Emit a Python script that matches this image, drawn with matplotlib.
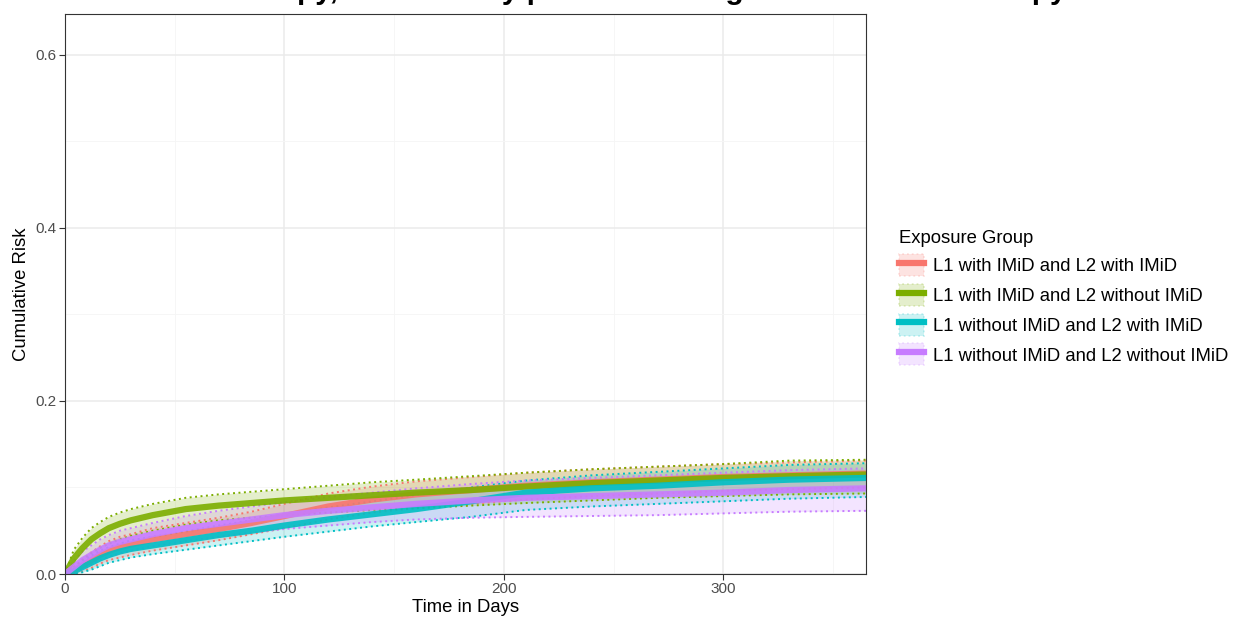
import matplotlib.pyplot as plt
from matplotlib.patches import Patch
from matplotlib.lines import Line2D

plt.rcParams['font.family'] = ['Liberation Sans', 'DejaVu Sans']

title = "Cumulative Risk of Infection after Therapy, Stratified by prior IMiD usage in L1 and L2 Therapy"
groups = ["L1 with IMiD and L2 with IMiD", "L1 with IMiD and L2 without IMiD",
          "L1 without IMiD and L2 with IMiD", "L1 without IMiD and L2 without IMiD"]
colors = ["#F8766D", "#7CAE00", "#00BFC4", "#C77CFF"]

days = [0, 4, 8, 12, 16, 20, 25, 30, 40, 55, 70, 85, 100, 120, 140, 160, 185, 210, 240, 270, 300, 330, 365]

red_est = [0, .004, .010, .016, .022, .027, .031, .034, .040, .046, .052, .059, .067, .078, .086, .092, .097, .102, .106, .109, .112, .114, .116]
red_lo = [0, 0, .003, .007, .012, .016, .019, .022, .027, .033, .039, .046, .053, .063, .071, .076, .081, .086, .090, .093, .096, .098, .100]
red_hi = [0, .008, .017, .025, .032, .038, .043, .046, .053, .059, .065, .072, .081, .093, .101, .107, .112, .117, .121, .124, .127, .129, .131]

green_est = [0, .018, .030, .040, .047, .053, .058, .062, .068, .075, .079, .082, .085, .088, .091, .094, .097, .101, .105, .108, .111, .113, .115]
green_lo = [0, .008, .016, .024, .030, .035, .040, .044, .050, .057, .062, .065, .068, .071, .074, .076, .079, .082, .085, .088, .090, .092, .093]
green_hi = [0, .028, .042, .053, .060, .066, .071, .075, .081, .088, .092, .095, .098, .102, .106, .109, .113, .117, .121, .124, .127, .131, .132]

cyan_est = [0, .003, .008, .013, .018, .022, .026, .029, .033, .039, .045, .050, .056, .063, .069, .075, .084, .094, .099, .102, .106, .109, .111]
cyan_lo = [0, 0, .002, .005, .009, .013, .016, .019, .023, .028, .033, .038, .043, .049, .055, .060, .066, .074, .078, .081, .084, .087, .089]
cyan_hi = [0, .006, .014, .021, .027, .031, .035, .039, .043, .049, .056, .062, .069, .077, .084, .091, .100, .108, .114, .118, .122, .126, .128]

purple_est = [0, .008, .016, .022, .028, .033, .037, .040, .046, .053, .058, .063, .068, .073, .077, .081, .085, .088, .090, .092, .094, .097, .099]
purple_lo = [0, .001, .006, .011, .016, .020, .024, .027, .032, .038, .043, .048, .052, .056, .060, .063, .065, .066, .067, .068, .070, .072, .073]
purple_hi = [0, .015, .026, .033, .040, .045, .050, .053, .059, .067, .073, .078, .083, .089, .094, .099, .104, .108, .111, .114, .117, .120, .122]

series = [(red_est, red_lo, red_hi), (green_est, green_lo, green_hi),
          (cyan_est, cyan_lo, cyan_hi), (purple_est, purple_lo, purple_hi)]

fig = plt.figure(figsize=(12.35, 6.2), dpi=100)
ax = fig.add_axes([65 / 1235, 1 - 574 / 620, (866 - 65) / 1235, (574 - 14) / 620])

dots = (0, (1, 1.8))
for (est, lo, hi), c in zip(series, colors):
    ax.fill_between(days, lo, hi, color=c, alpha=0.2, linewidth=0)
    ax.plot(days, lo, color=c, lw=1.4, ls=dots)
    ax.plot(days, hi, color=c, lw=1.4, ls=dots)
for (est, lo, hi), c in zip(series, colors):
    ax.plot(days, est, color=c, lw=4.5, alpha=0.9, solid_capstyle='butt')

ax.set_xlim(0, 365)
ax.set_ylim(0, 0.647)
ax.set_xticks([0, 100, 200, 300])
ax.set_xticks([50, 150, 250, 350], minor=True)
ax.set_yticks([0, 0.2, 0.4, 0.6])
ax.set_yticks([0.1, 0.3, 0.5], minor=True)
ax.yaxis.set_major_formatter(plt.FormatStrFormatter('%.1f'))
ax.grid(which='major', color='#EBEBEB', lw=1.1)
ax.grid(which='minor', color='#F5F5F5', lw=0.6)
ax.set_axisbelow(True)
ax.tick_params(which='major', length=4, color='#333333', labelsize=11, labelcolor='#4D4D4D', pad=2)
ax.tick_params(which='minor', length=0)
for s in ax.spines.values():
    s.set_color('#333333')
    s.set_linewidth(0.8)
ax.set_xlabel("Time in Days", fontsize=13.3, labelpad=2)
ax.set_ylabel("Cumulative Risk", fontsize=13.3, labelpad=4)

# title is clipped by the top edge, as in the original
fig.text(400 / 1235, 1.0 + 1 / 620, title, ha='center', va='baseline',
         fontsize=21.4, fontweight='bold')

handles = []
for c in colors:
    patch = Patch(facecolor=c, alpha=0.2, edgecolor=c, linestyle=':', linewidth=1.3)
    line = Line2D([], [], color=c, lw=4.5)
    handles.append((patch, line))
fig.legend(handles, groups, title="Exposure Group", loc='upper left',
           bbox_to_anchor=(882 / 1235, 1 - 213 / 620), frameon=False,
           fontsize=13.3, title_fontsize=13.3, handlelength=1.35, handleheight=1.45,
           labelspacing=0.42, handletextpad=0.5, alignment='left')

fig.savefig("out.png", dpi=100)
